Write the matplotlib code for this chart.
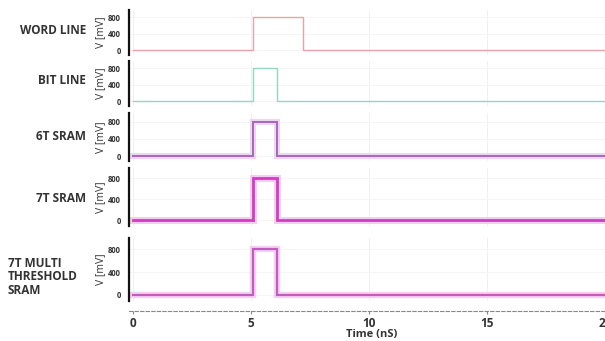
import matplotlib
matplotlib.use('Agg')
import matplotlib.pyplot as plt

# signal traces (time in nS, voltage in mV)
word_t = [0, 5.1, 5.1, 7.2, 7.2, 20]
word_v = [0, 0, 800, 800, 0, 0]
bit_t = [0, 5.1, 5.1, 6.1, 6.1, 20]
bit_v = [0, 0, 800, 800, 0, 0]
sram6_t = [0, 5.1, 5.1, 6.1, 6.1, 20]
sram6_v = [0, 0, 800, 800, 0, 0]
sram7_t = [0, 5.1, 5.1, 6.1, 6.1, 20]
sram7_v = [0, 0, 800, 800, 0, 0]
multi_t = [0, 5.1, 5.1, 6.1, 6.1, 20]
multi_v = [0, 0, 800, 800, 0, 0]

names = ['WORD LINE', 'BIT LINE', '6T SRAM', '7T SRAM', '7T MULTI\nTHRESHOLD\nSRAM']
yticks = [0, 400, 800]
xticks = [0, 5, 10, 15, 20]

W, H = 605, 341
fig = plt.figure(figsize=(W / 100, H / 100), dpi=100)
plt.rcParams['font.family'] = ['Open Sans', 'DejaVu Sans']

# panel boxes in pixels: (top, bottom)
boxes = [(10, 55), (61, 106), (113, 161), (168, 226), (238, 301)]
ylims = [(-110, 980), (-110, 980), (-110, 1000), (-110, 1000), (-110, 1000)]
traces = [(word_t, word_v, '#e5a3aa', 1.0, None),
          (bit_t, bit_v, '#8fd8c6', 1.0, None),
          (sram6_t, sram6_v, '#a868b8', 1.4, '#eed6f2'),
          (sram7_t, sram7_v, '#d23cc4', 2.0, '#f6ccf2'),
          (multi_t, multi_v, '#c45cc0', 1.6, '#f4d0f2')]
label_pos = [(86, 30, 'right'), (86, 81, 'right'), (86, 136, 'right'),
             (86, 198, 'right'), (8, 277, 'left')]

left_px, right_px = 129, 605
for i, ((top, bot), (t, v, col, lw, halo)) in enumerate(zip(boxes, traces)):
    ax = fig.add_axes([left_px / W, 1 - bot / H, (right_px - left_px) / W, (bot - top) / H])
    if halo:
        ax.plot(t, v, color=halo, lw=lw + 3, solid_joinstyle='miter')
    ax.plot(t, v, color=col, lw=lw, solid_joinstyle='miter')
    ax.set_xlim(-0.17, 19.9)
    ax.set_ylim(*ylims[i])
    ax.set_yticks(yticks)
    ax.set_yticklabels([str(y) for y in yticks], fontsize=5.5, fontweight='bold', color='#333333')
    ax.tick_params(axis='y', length=0, pad=6)
    ax.set_xticks(xticks)
    ax.grid(True, axis='x', color='#eeeeee', lw=0.6)
    ax.grid(True, axis='y', color='#f4f4f4', lw=0.6)
    for s in ['top', 'right', 'bottom']:
        ax.spines[s].set_visible(False)
    ax.spines['left'].set_linewidth(1.6)
    ax.spines['left'].set_color('#111111')
    ax.tick_params(axis='x', length=0, labelbottom=False)
    ax.set_ylabel('V [mV]', fontsize=7.5, color='#333333', labelpad=1)
    x, y, ha = label_pos[i]
    fig.text(x / W, 1 - y / H, names[i], ha=ha, va='center', fontsize=8.5,
             fontweight='bold', color='#333333', linespacing=1.05)

# shared time axis
axx = fig.add_axes([left_px / W, 1 - 311 / H, (right_px - left_px) / W, 1e-6])
axx.set_xlim(-0.17, 19.9)
axx.set_yticks([])
for s in ['top', 'right', 'left']:
    axx.spines[s].set_visible(False)
axx.spines['bottom'].set_color('#888888')
axx.spines['bottom'].set_linestyle((0, (3, 2)))
axx.set_xticks(xticks)
axx.set_xticklabels([str(x) for x in xticks], fontsize=8.5, fontweight='bold', color='#333333')
axx.tick_params(axis='x', length=2, color='#888888', pad=2)
fig.text(372 / W, 1 - 334 / H, 'Time (nS)', ha='center', va='center', fontsize=8,
         fontweight='bold', color='#333333')

fig.savefig('out.png', dpi=100)
